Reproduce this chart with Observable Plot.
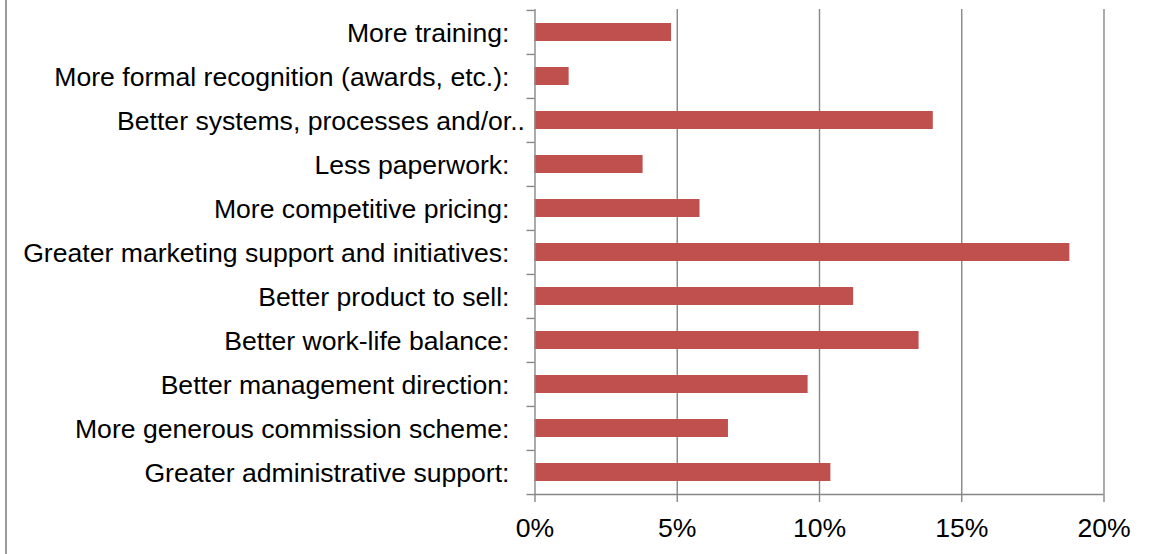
<!DOCTYPE html>
<html>
<head>
<meta charset="utf-8">
<script src="https://cdn.jsdelivr.net/npm/d3@7"></script>
<script src="https://cdn.jsdelivr.net/npm/@observablehq/plot@0.6"></script>
<style>
  body { margin: 0; background: #fff; }
  #wrap { position: relative; width: 1152px; height: 554px; background: #fff; }
  #border { position: absolute; left: 5px; top: 0; width: 0; height: 554px; border-left: 2px solid #9a9a9a; }
</style>
</head>
<body>
<div id="wrap"><div id="border"></div></div>
<script>
const categories = [
  "More training:",
  "More formal recognition (awards, etc.):",
  "Better systems, processes and/or…",
  "Less paperwork:",
  "More competitive pricing:",
  "Greater marketing support and initiatives:",
  "Better product to sell:",
  "Better work-life balance:",
  "Better management direction:",
  "More generous commission scheme:",
  "Greater administrative support:"
];
const values = [4.8, 1.2, 14.0, 3.8, 5.8, 18.8, 11.2, 13.5, 9.6, 6.8, 10.4];
const xTicks = [0, 5, 10, 15, 20];
const xTickLabels = ["0%", "5%", "10%", "15%", "20%"];

const data = categories.map((c, i) => ({category: c, value: values[i]}));

const W = 1152, H = 554, mt = 9, mb = 60, ml = 534.5, mr = 48.5;
const step = (H - mt - mb) / categories.length;
const grey = "#878787";
const fs = 26.6;
const truncated = categories[2];
const last = categories[categories.length - 1];

const chart = Plot.plot({
  width: W, height: H,
  marginTop: mt, marginBottom: mb, marginLeft: ml, marginRight: mr,
  style: {fontFamily: "'Liberation Sans', Arial, sans-serif", fontSize: fs + "px", background: "transparent", color: "black"},
  x: {domain: [0, 20], axis: null, label: null},
  y: {domain: categories, paddingInner: 0.6, paddingOuter: 0.3, axis: null, label: null},
  marks: [
    Plot.ruleX(xTicks.slice(1), {stroke: grey, strokeWidth: 1.4}),
    Plot.barX(data, {x: "value", y: "category", fill: "#C0504D"}),
    Plot.ruleX([0], {stroke: grey, strokeWidth: 1.4}),
    Plot.ruleY([last], {x1: 0, x2: 20, dy: step / 2, stroke: grey, strokeWidth: 1.4}),
    Plot.axisY(categories, {anchor: "left", label: null, tickSize: 8, dy: -step / 2, fill: "none", stroke: grey, strokeWidth: 1.4}),
    Plot.axisY([last], {anchor: "left", label: null, tickSize: 8, dy: step / 2, fill: "none", stroke: grey, strokeWidth: 1.4}),
    Plot.axisY(categories.filter(c => c !== truncated), {anchor: "left", label: null, tickSize: 0, tickPadding: 25.5, fontSize: fs, fill: "black", dy: 0.5}),
    Plot.axisY([truncated], {anchor: "left", label: null, tickSize: 0, tickPadding: 10, fontSize: fs, fill: "black", dy: 0.5, tickFormat: d => d.replace("…", "..")}),
    Plot.axisX(xTicks, {anchor: "bottom", label: null, tickSize: 8, tickPadding: 15.5, fontSize: fs, fill: "black", stroke: grey, strokeWidth: 1.4, tickFormat: d => xTickLabels[xTicks.indexOf(d)]})
  ]
});
document.getElementById("wrap").appendChild(chart);
</script>
</body>
</html>
